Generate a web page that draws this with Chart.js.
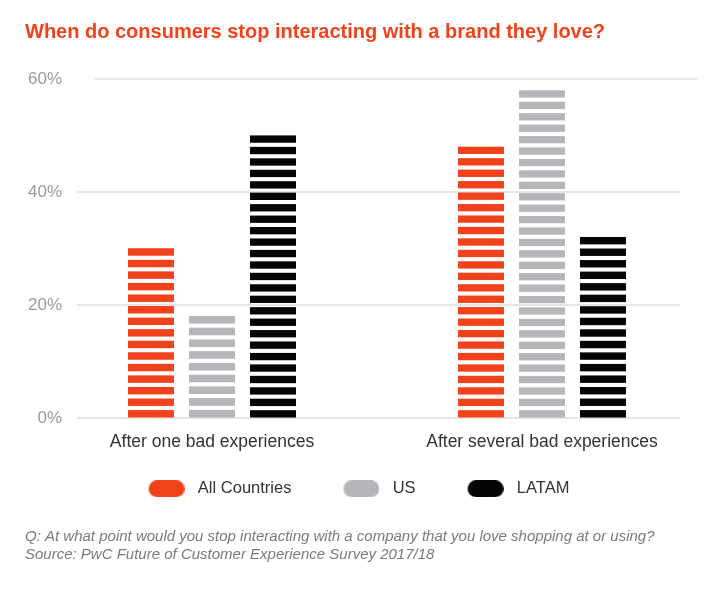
<!DOCTYPE html>
<html>
<head>
<meta charset="utf-8">
<script src="https://cdn.jsdelivr.net/npm/chart.js@4.4.0/dist/chart.umd.min.js"></script>
<style>
  html, body { margin: 0; padding: 0; background: #fff; }
  #wrap { width: 725px; height: 590px; }
</style>
</head>
<body>
<div id="wrap"><canvas id="chart"></canvas></div>
<script>
const categories = ['After one bad experiences', 'After several bad experiences'];
const seriesNames = ['All Countries', 'US', 'LATAM'];
const allCountries = [30, 48];
const us = [18, 58];
const latam = [50, 32];
const yTicks = [0, 20, 40, 60];
const colors = ['#f2421b', '#b6b5b9', '#050505'];

// one stripe per 2 points, stripes fill the bar from base to value
const STEP = 2;
const GAP = 0.73;

// pill shaped legend markers, transparent space on the left gives the item gap
function pill(color) {
  const c = document.createElement('canvas');
  c.width = 61; c.height = 17;
  const g = c.getContext('2d');
  const x = 25, w = 36, h = 17, r = 8.5;
  g.fillStyle = color;
  g.beginPath();
  g.moveTo(x + r, 0);
  g.lineTo(x + w - r, 0);
  g.arc(x + w - r, r, r, -Math.PI / 2, Math.PI / 2);
  g.lineTo(x + r, h);
  g.arc(x + r, r, r, Math.PI / 2, Math.PI * 1.5);
  g.closePath();
  g.fill();
  return c;
}
const pills = colors.map(pill);

const stripes = {
  id: 'stripes',
  afterLayout(chart) {
    // move the legend row left, the pill canvases add space in front
    chart.legend.left -= 22;
    chart.legend.right -= 22;
  },
  beforeDatasetsDraw(chart) {
    const ctx = chart.ctx, y = chart.scales.y, area = chart.chartArea;
    ctx.save();
    ctx.strokeStyle = '#dddddd';
    ctx.lineWidth = 1.5;
    ctx.fillStyle = '#9a9a9a';
    ctx.font = '17px "Liberation Sans"';
    ctx.textAlign = 'right';
    ctx.textBaseline = 'middle';
    yTicks.forEach(v => {
      const py = Math.round(y.getPixelForValue(v));
      // top line sits a bit to the right, like the original
      const x0 = v === 60 ? area.left + 48 : area.left + 30;
      const x1 = v === 60 ? area.right - 10 : area.right - 27;
      ctx.beginPath();
      ctx.moveTo(x0, py);
      ctx.lineTo(x1, py);
      ctx.stroke();
      ctx.fillText(v + '%', area.left + 15, py);
    });
    ctx.restore();
  },
  beforeDatasetDraw(chart, args) {
    const ctx = chart.ctx, y = chart.scales.y;
    const ds = chart.data.datasets[args.index];
    ctx.save();
    ctx.fillStyle = ds.backgroundColor;
    args.meta.data.forEach((bar, i) => {
      const v = ds.data[i];
      const p = bar.getProps(['x', 'width'], true);
      const n = Math.round(v / STEP);
      const per = (v + GAP) / n;
      for (let k = 0; k < n; k++) {
        const top = y.getPixelForValue(k * per + per - GAP);
        const bot = y.getPixelForValue(k * per);
        ctx.fillRect(p.x - p.width / 2, top, p.width, bot - top);
      }
    });
    ctx.restore();
    return false;
  }
};

new Chart(document.getElementById('chart'), {
  type: 'bar',
  data: {
    labels: categories,
    datasets: [
      { label: seriesNames[0], data: allCountries, backgroundColor: colors[0] },
      { label: seriesNames[1], data: us, backgroundColor: colors[1] },
      { label: seriesNames[2], data: latam, backgroundColor: colors[2] }
    ]
  },
  options: {
    responsive: true,
    maintainAspectRatio: false,
    animation: false,
    devicePixelRatio: 1,
    layout: { padding: { left: 25, right: 18, top: 0, bottom: 0 } },
    datasets: { bar: { categoryPercentage: 0.5545, barPercentage: 0.754 } },
    scales: {
      x: {
        grid: { display: false },
        border: { display: false },
        ticks: {
          color: '#333333',
          padding: 6,
          font: { family: 'Liberation Sans', size: 17.5 }
        }
      },
      y: {
        min: 0,
        max: 60,
        afterFit: s => { s.width = 22; },
        grid: { display: false, drawTicks: false },
        border: { display: false },
        ticks: { display: false, stepSize: 20 }
      }
    },
    plugins: {
      title: {
        display: true,
        text: 'When do consumers stop interacting with a brand they love?',
        align: 'start',
        color: '#f2421b',
        font: { family: 'Liberation Sans', size: 20, weight: 'bold' },
        padding: { top: 20, bottom: 35 }
      },
      subtitle: {
        display: true,
        position: 'bottom',
        align: 'start',
        text: [
          'Q: At what point would you stop interacting with a company that you love shopping at or using?',
          'Source: PwC Future of Customer Experience Survey 2017/18'
        ],
        color: '#7a7a7a',
        font: { family: 'Liberation Sans', size: 15, style: 'italic', lineHeight: 1.2 },
        padding: { top: 21, bottom: 26 }
      },
      legend: {
        position: 'bottom',
        labels: {
          color: '#333333',
          usePointStyle: true,
          pointStyleWidth: 71,
          padding: 22,
          font: { family: 'Liberation Sans', size: 16.5 },
          generateLabels: chart => {
            const items = Chart.defaults.plugins.legend.labels.generateLabels(chart);
            items.forEach((it, i) => { it.pointStyle = pills[i]; });
            return items;
          }
        }
      },
      tooltip: { enabled: false }
    }
  },
  plugins: [stripes]
});
</script>
</body>
</html>
